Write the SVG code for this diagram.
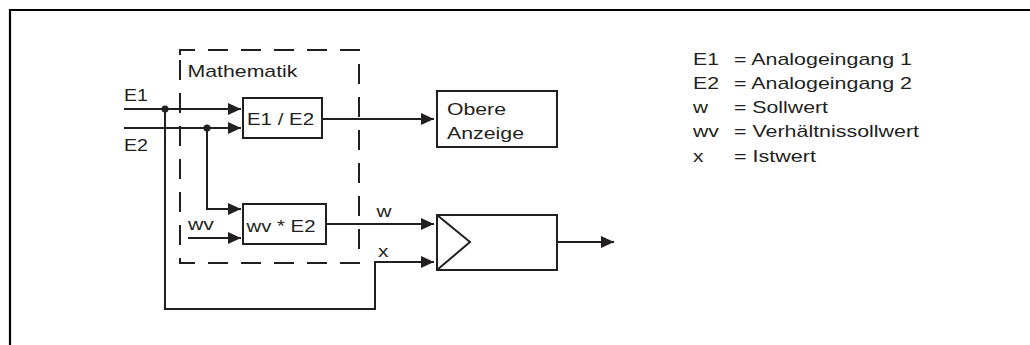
<svg xmlns="http://www.w3.org/2000/svg" width="1030" height="345" viewBox="0 0 1030 345">
<defs>
<marker id="arr" markerUnits="userSpaceOnUse" markerWidth="13" markerHeight="12" viewBox="0 0 13 12" refX="13" refY="6" orient="auto">
<path d="M0,0 L13,6 L0,12 Z" fill="#231f20"/>
</marker>
<style>
text{font-family:"Liberation Sans",Arial,sans-serif;font-size:17px;fill:#231f20;}
.box{fill:#fff;stroke:#231f20;stroke-width:2;}
.ln{fill:none;stroke:#231f20;stroke-width:2;}
.ar{marker-end:url(#arr);}
.dash{fill:none;stroke:#231f20;stroke-width:2;stroke-dasharray:20 13;}
</style>
</defs>
<rect width="1030" height="345" fill="#fff"/>
<path d="M10,345 V10 H1030" fill="none" stroke="#000" stroke-width="2.2"/>

<g id="mathematik">
<path class="dash" d="M180,60 V263 H359 V50 H180 Z"/>
<text x="187.5" y="77" textLength="110" lengthAdjust="spacingAndGlyphs">Mathematik</text>
</g>

<g id="connectors">
<path class="ln ar" d="M124,109 H241"/>
<path class="ln ar" d="M124,128 H241"/>
<path class="ln ar" d="M165,109 V309 H375 V262 H434"/>
<path class="ln ar" d="M207,128 V209 H241"/>
<path class="ln ar" d="M188,238 H241"/>
<path class="ln ar" d="M322,119 H434"/>
<path class="ln ar" d="M326,224 H434"/>
<path class="ln ar" d="M557,242 H614"/>
<circle cx="165" cy="109" r="3.5" fill="#231f20"/>
<circle cx="207" cy="128" r="3.5" fill="#231f20"/>
<text x="124" y="101" textLength="24" lengthAdjust="spacingAndGlyphs">E1</text>
<text x="124" y="151" textLength="24" lengthAdjust="spacingAndGlyphs">E2</text>
<text x="188" y="230" textLength="26" lengthAdjust="spacingAndGlyphs">wv</text>
<text x="376.5" y="217" textLength="15" lengthAdjust="spacingAndGlyphs">w</text>
<text x="378" y="257" textLength="10.5" lengthAdjust="spacingAndGlyphs">x</text>
</g>

<g id="div">
<rect class="box" x="243" y="98" width="79" height="40"/>
<text x="247" y="125" textLength="67" lengthAdjust="spacingAndGlyphs">E1 / E2</text>
</g>

<g id="mul">
<rect class="box" x="243" y="204" width="83" height="40"/>
<text x="246.5" y="232" textLength="69" lengthAdjust="spacingAndGlyphs">wv * E2</text>
</g>

<g id="anzeige">
<rect class="box" x="437" y="91" width="120" height="56"/>
<text x="447" y="115" textLength="59" lengthAdjust="spacingAndGlyphs">Obere</text>
<text x="447" y="139" textLength="77" lengthAdjust="spacingAndGlyphs">Anzeige</text>
</g>

<g id="regler">
<rect class="box" x="437" y="215" width="120" height="55"/>
<path class="ln" d="M437,215 L470,242 L437,270"/>
</g>

<g id="legend">
<text x="693" y="65" textLength="26" lengthAdjust="spacingAndGlyphs">E1</text>
<text x="734" y="65" textLength="178" lengthAdjust="spacingAndGlyphs">= Analogeingang 1</text>
<text x="693" y="89" textLength="26" lengthAdjust="spacingAndGlyphs">E2</text>
<text x="734" y="89" textLength="178" lengthAdjust="spacingAndGlyphs">= Analogeingang 2</text>
<text x="693" y="113" textLength="15" lengthAdjust="spacingAndGlyphs">w</text>
<text x="734" y="113" textLength="94" lengthAdjust="spacingAndGlyphs">= Sollwert</text>
<text x="693" y="137" textLength="26" lengthAdjust="spacingAndGlyphs">wv</text>
<text x="734" y="137" textLength="185" lengthAdjust="spacingAndGlyphs">= Verhältnissollwert</text>
<text x="693" y="162" textLength="10.5" lengthAdjust="spacingAndGlyphs">x</text>
<text x="734" y="162" textLength="82" lengthAdjust="spacingAndGlyphs">= Istwert</text>
</g>
</svg>
